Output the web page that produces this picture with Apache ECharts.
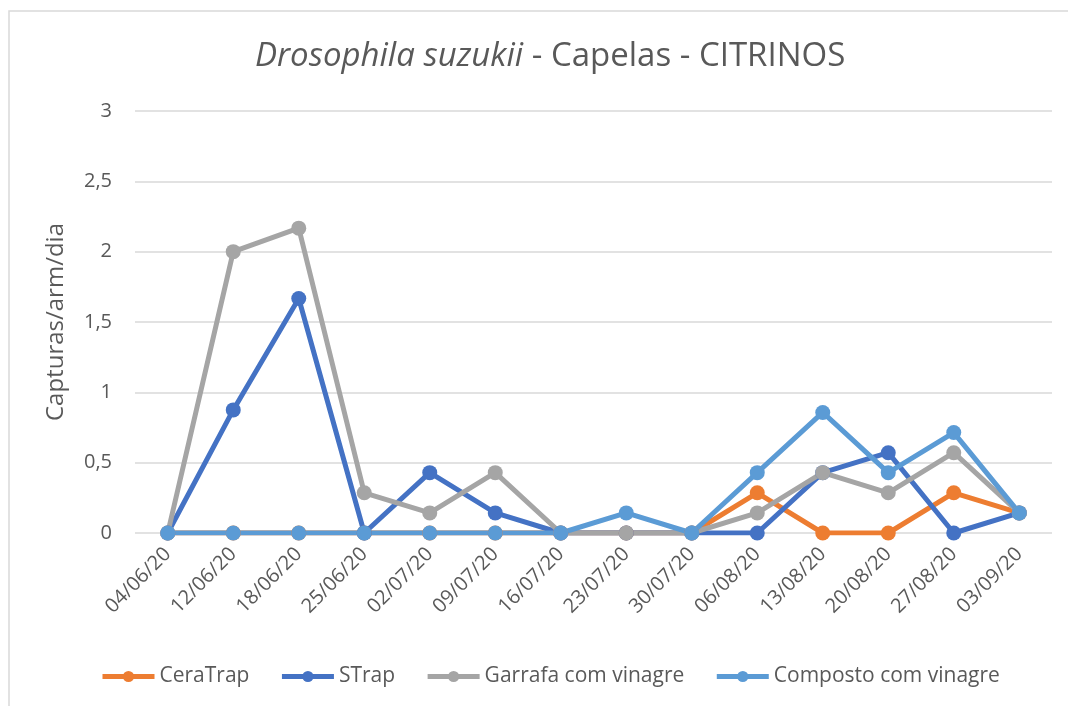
<!DOCTYPE html>
<html><head><meta charset="utf-8">
<script src="https://cdn.jsdelivr.net/npm/echarts@6/dist/echarts.min.js"></script>
<style>html,body{margin:0;padding:0;background:#fff}#c{width:1068px;height:706px}</style>
</head><body><div id="c"></div>
<script>
const categories = ['04/06/20','12/06/20','18/06/20','25/06/20','02/07/20','09/07/20','16/07/20','23/07/20','30/07/20','06/08/20','13/08/20','20/08/20','27/08/20','03/09/20'];
const ceraTrap = [0,0,0,0,0,0,0,0,0,0.286,0,0,0.286,0.143];
const sTrap = [0,0.875,1.667,0,0.429,0.143,0,0,0,0,0.429,0.571,0,0.143];
const garrafa = [0,2,2.167,0.286,0.143,0.429,0,0,0,0.143,0.429,0.286,0.571,0.143];
const composto = [0,0,0,0,0,0,0,0.143,0,0.429,0.857,0.429,0.714,0.143];
const seriesNames = ['CeraTrap','STrap','Garrafa com vinagre','Composto com vinagre'];
const colors = ['#ED7D31','#4472C4','#A5A5A5','#5B9BD5'];
const FONT = '"Open Sans", sans-serif';
const chart = echarts.init(document.getElementById('c'));
function mk(name, data, color){
  return {name, type:'line', data, color, symbol:'circle', symbolSize:15,
    lineStyle:{width:5, color}, itemStyle:{color}, animation:false};
}
chart.setOption({
  animation:false,
  graphic:[{type:'rect', shape:{x:9,y:11,width:1100,height:760}, style:{fill:'none', stroke:'#D9D9D9', lineWidth:1.5}, silent:true}],
  title:{left:250, top:35, text:'{i|Drosophila suzukii}{n| - Capelas - CITRINOS}',
    textStyle:{rich:{i:{fontStyle:'italic',fontWeight:'normal',fontSize:33,color:'#595959',fontFamily:FONT},n:{fontWeight:'normal',fontSize:33,color:'#595959',fontFamily:FONT}}}},
  legend:{top:661, left:95, itemGap:30, itemWidth:52, itemHeight:14,
    lineStyle:{width:5},
    textStyle:{fontSize:21, color:'#595959', fontFamily:FONT}, data:seriesNames},
  grid:{left:135, right:16, top:111, bottom:173, containLabel:false},
  xAxis:{type:'category', data:categories, boundaryGap:true,
    axisLine:{show:false}, axisTick:{show:false},
    axisLabel:{rotate:45, fontSize:20, color:'#595959', fontFamily:FONT, margin:18, interval:0}},
  yAxis:{type:'value', min:0, max:3, interval:0.5,
    name:'Capturas/arm/dia', nameLocation:'middle', nameGap:67, nameRotate:90,
    nameTextStyle:{fontSize:24, color:'#595959', fontFamily:FONT},
    axisLabel:{fontSize:20, color:'#595959', fontFamily:FONT, margin:23, formatter:v=>String(v).replace('.',',')},
    splitLine:{lineStyle:{color:'#D9D9D9', width:1.5}}, axisLine:{show:false}, axisTick:{show:false}},
  series:[mk(seriesNames[0],ceraTrap,colors[0]), mk(seriesNames[1],sTrap,colors[1]), mk(seriesNames[2],garrafa,colors[2]), mk(seriesNames[3],composto,colors[3])]
});
</script></body></html>
